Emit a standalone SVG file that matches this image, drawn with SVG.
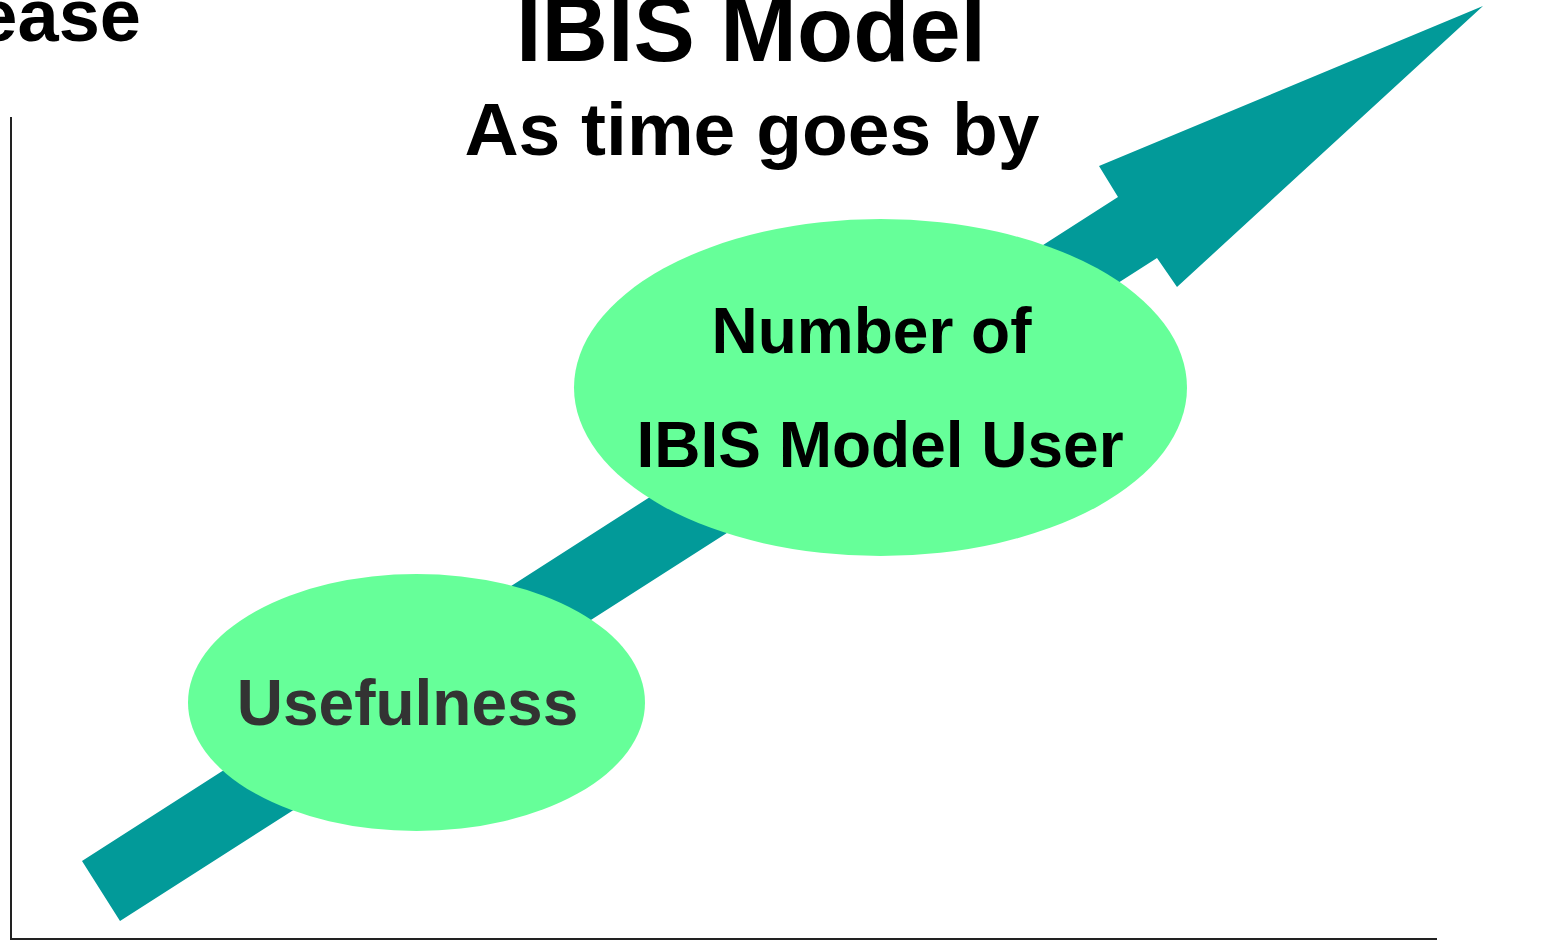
<svg xmlns="http://www.w3.org/2000/svg" width="1552" height="947" viewBox="0 0 1552 947">
<style>
.t{font-family:"Liberation Sans",Arial,sans-serif;font-weight:bold;}
.node{fill:#66FF99;}
.axis{stroke:#222;stroke-width:2;fill:none;}
</style>
<rect width="1552" height="947" fill="#fff"/>
<g id="titles">
<text class="t" x="141" y="41" font-size="74" text-anchor="end" fill="#000">Increase</text>
<text class="t" x="751" y="61" font-size="92" text-anchor="middle" fill="#000">IBIS Model</text>
<text class="t" x="752" y="155" font-size="75" text-anchor="middle" fill="#000">As time goes by</text>
</g>
<g id="axes">
<path class="axis" d="M11,117 V939 H1437"/>
</g>
<g id="connectors">
<path id="arrow" fill="#029A99" d="M82,861 L1118,197 L1099,166 L1483,6 L1177,287 L1157,258 L120,921 Z"/>
</g>
<g id="node-users">
<ellipse class="node" cx="880.5" cy="387.5" rx="306.5" ry="168.5"/>
<text class="t" x="871.5" y="353" font-size="64" text-anchor="middle" fill="#000">Number of</text>
<text class="t" x="880" y="467" font-size="64" text-anchor="middle" fill="#000">IBIS Model User</text>
</g>
<g id="node-usefulness">
<ellipse class="node" cx="416.5" cy="702.5" rx="228.5" ry="128.5"/>
<text class="t" x="407.5" y="725" font-size="64" text-anchor="middle" fill="#333333">Usefulness</text>
</g>
</svg>
